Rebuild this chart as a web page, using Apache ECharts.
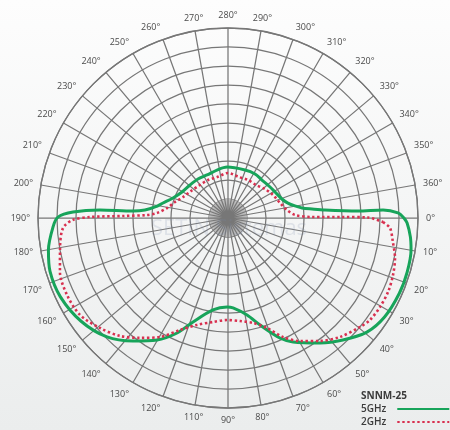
<!DOCTYPE html>
<html><head><meta charset="utf-8">
<script src="https://cdn.jsdelivr.net/npm/echarts@6/dist/echarts.min.js"></script>
<style>html,body{margin:0;padding:0;background:#fff}#c{width:450px;height:430px}</style>
</head><body><div id="c"></div>
<script>
// Angle tick labels (as printed on the original chart)
const tickLabels = ['0°','10°','20°','30°','40°','50°','60°','70°','80°','90°',
  '110°','120°','130°','140°','150°','160°','170°','180°','190°','200°','210°','220°',
  '230°','240°','250°','260°','270°','280°','290°','300°','310°','320°','330°','340°','350°','360°'];
const titleText = 'SNNM-25';
const seriesNames = ['5GHz', '2GHz'];

// 5GHz (green) pattern: angle in degrees, radius in grid rings (0-10)
const greenAngles = [0,1.6,5.9,9.9,16.8,23.7,32.2,39.4,46.7,53.6,62.3,66.6,73.3,78.9,86.8,90.6,99.3,108.6,113.9,120.2,127.7,135.5,144.9,154.9,163.3,169.9,177.1,180.3,182.2,183.6,184.2,185.5,188.6,193,200,209.5,221,232.4,244,257.1,269,289.5,301.5,311.8,323.6,331,340.6,346,349.8,352.3,353.9,355.3,356.9,357.0,358.3,0];
const greenRadii  = [9.26,9.43,9.65,9.78,9.85,9.85,9.75,9.46,8.82,8.17,7.37,6.88,5.88,5.2,4.74,4.68,4.9,5.77,6.62,7.43,8.18,8.93,9.45,9.75,9.78,9.6,9.22,8.95,8.16,6.75,5.01,4.39,3.88,3.51,3.08,2.78,2.65,2.59,2.52,2.59,2.68,2.68,2.72,2.68,2.75,2.83,3.01,3.25,3.58,3.93,4.45,5.12,6.85,8.17,8.95,9.26];

// 2GHz (red dotted) pattern
const redAngles = [1.5,3.5,8.3,13.5,19.1,24.8,30.3,35.7,39.5,46.7,53.2,59.7,65.2,70.5,76.6,83.4,90.6,98.2,106.2,113.2,119.7,126.3,132.5,139.3,146.8,154.4,162.2,169.9,176.5,179.3,180.4,181.1,182.1,184,189.3,196.8,205,216.1,229.7,242.2,255,270,285,297.8,310.3,321.9,332.9,343.9,352.3,357.4,359.3,359.5,359.8,1.5];
const redRadii  = [8.16,8.54,8.77,9.04,9.19,9.28,9.27,9.2,9.01,8.6,8.08,7.5,6.9,6.14,5.68,5.46,5.37,5.53,5.86,6.41,7.21,7.83,8.42,8.88,9.31,9.39,9.29,8.98,8.7,8.16,7.26,5.53,4.27,3.75,3.25,2.91,2.61,2.41,2.28,2.26,2.23,2.37,2.23,2.26,2.28,2.47,2.66,2.85,3.13,3.53,4.42,6.0,7.37,8.16];

const toData = (ang, rad) => rad.map((r, i) => [r, ang[i]]);

const chart = echarts.init(document.getElementById('c'));
const hub = new echarts.graphic.RadialGradient(0.5, 0.5, 0.5, [
  {offset: 0, color: '#8e8e8e'}, {offset: 1, color: '#c2c2c2'}]);
const areaColors = [hub];
for (let i = 1; i < 10; i++) areaColors.push('rgba(0,0,0,0)');

chart.setOption({
  animation: false,
  backgroundColor: new echarts.graphic.LinearGradient(0, 0, 0, 1, [
    {offset: 0, color: '#fdfdfd'}, {offset: 1, color: '#ebeded'}]),
  title: {
    text: titleText, left: 361, top: 391, padding: 0,
    textStyle: {fontSize: 10, fontWeight: 'bold', color: '#3b3b3b', fontFamily: 'Open Sans'}
  },
  legend: {
    orient: 'vertical', left: 361, top: 404, align: 'right', padding: 0,
    itemWidth: 52, itemHeight: 6, itemGap: 3,
    itemStyle: {opacity: 0},
    textStyle: {fontSize: 10, fontWeight: 600, color: '#3b3b3b', fontFamily: 'Open Sans', padding: [0, 6, 0, 0]},
    data: seriesNames
  },
  graphic: [{
    type: 'text', z: 10, silent: true,
    style: {text: 'SETIN Sistemas', x: 229, y: 229, align: 'center', verticalAlign: 'middle',
      font: '22px "Open Sans"', fill: 'rgba(120,140,170,0.18)'}
  }],
  polar: {center: [228, 218], radius: 190},
  angleAxis: {
    type: 'value', min: 0, max: 360, interval: 10, startAngle: 0, clockwise: true,
    axisLine: {lineStyle: {color: '#777', width: 1.3}},
    axisTick: {show: false},
    axisLabel: {margin: 8, fontSize: 9, color: '#4a4a4a', fontFamily: 'Open Sans',
      formatter: v => tickLabels[Math.round(v / 10)] || ''},
    splitLine: {lineStyle: {color: '#777', width: 1.25}}
  },
  radiusAxis: {
    min: 0, max: 10, interval: 1,
    axisLine: {show: false}, axisTick: {show: false}, axisLabel: {show: false},
    splitLine: {lineStyle: {color: '#777', width: 1.25}},
    splitArea: {show: true, areaStyle: {color: areaColors}}
  },
  series: [
    {name: seriesNames[0], type: 'line', coordinateSystem: 'polar', smooth: 0.3,
      symbol: 'none', z: 3,
      lineStyle: {color: '#17a45a', width: 3},
      itemStyle: {color: '#17a45a'},
      data: toData(greenAngles, greenRadii)},
    {name: seriesNames[1], type: 'line', coordinateSystem: 'polar', smooth: 0.3,
      symbol: 'none', z: 4,
      lineStyle: {color: '#d8304f', width: 2.6, type: [2.4, 2.6]},
      itemStyle: {color: '#d8304f'},
      data: toData(redAngles, redRadii)}
  ]
});
</script></body></html>
